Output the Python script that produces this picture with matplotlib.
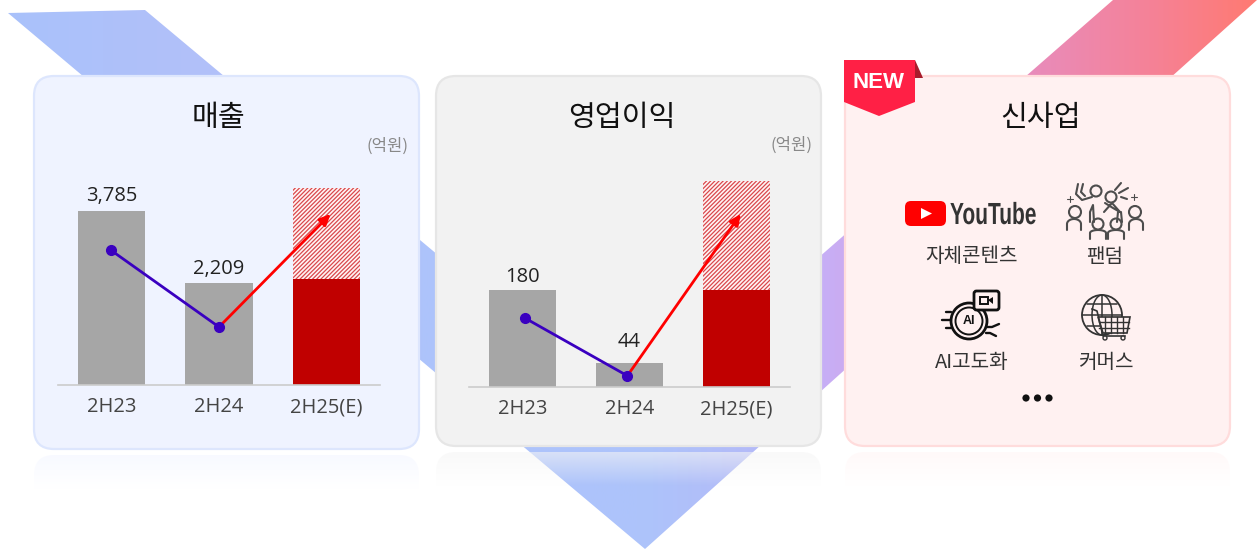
import numpy as np
import matplotlib
matplotlib.use('Agg')
import matplotlib.pyplot as plt
from matplotlib.patches import Polygon, FancyBboxPatch, Circle, Ellipse, Rectangle
from matplotlib.patheffects import AbstractPathEffect
from matplotlib.transforms import Affine2D
from matplotlib.colors import LinearSegmentedColormap, to_rgb

plt.rcParams['font.family'] = ['Noto Sans CJK KR', 'DejaVu Sans']
plt.rcParams['hatch.linewidth'] = 0.9

W, H = 1257, 549

categories = ['2H23', '2H24', '2H25(E)']

# 매출 (억원)
sales_actual = [3785, 2209, 2305]
sales_estimate_top = 4285
sales_labels = ['3,785', '2,209']
sales_line_x = [-0.01, 1.0]
sales_line_y = [2937, 1262]
sales_arrow_end = (2.04, 3720)

# 영업이익 (억원)
profit_actual = [180, 44, 180]
profit_estimate_top = 383
profit_labels = ['180', '44']
profit_line_x = [0.02, 0.98]
profit_line_y = [128, 20]
profit_arrow_end = (2.04, 322)

business_labels = ['자체콘텐츠', '팬덤', 'AI고도화', '커머스']

GREY = '#a6a6a6'
DARK_RED = '#c00000'
PURPLE = '#3a00c0'
PINK_BG = '#fff1f1'


class SqueezeX(AbstractPathEffect):
    # narrows drawn text, there is no condensed bold font installed
    def __init__(self, x_px, factor):
        super().__init__()
        self.x_px = x_px
        self.factor = factor

    def draw_path(self, renderer, gc, tpath, affine, rgbFace=None):
        squeeze = Affine2D().translate(-self.x_px, 0).scale(self.factor, 1).translate(self.x_px, 0)
        renderer.draw_path(gc, tpath, affine + squeeze, rgbFace)


def px_axes(x0, y0, x1, y1):
    return fig.add_axes([x0 / W, 1 - y1 / H, (x1 - x0) / W, (y1 - y0) / H])


def draw_chart(ax, actual, est_top, labels, label_gaps, line_x, line_y, arrow_end, ymax):
    x = np.arange(3)
    bar_colors = [GREY, GREY, DARK_RED]
    ax.bar(x, actual, width=0.63, color=bar_colors, zorder=2)
    ax.bar(2, est_top - actual[2], bottom=actual[2], width=0.63, facecolor='#fff4f4',
           edgecolor='#d9484c', hatch='////////', linewidth=0, zorder=2)
    for i in range(2):
        ax.annotate(labels[i], (x[i], actual[i]), xytext=(0, label_gaps[i]), textcoords='offset points',
                    ha='center', va='center', fontsize=14.5, color='#222222', family=['Open Sans'], zorder=5)
    ax.annotate('', xy=arrow_end, xytext=(line_x[1], line_y[1]), zorder=4,
                arrowprops=dict(arrowstyle='-|>,head_width=0.3,head_length=0.65', color='#ff0000',
                                lw=2.0, shrinkA=0, shrinkB=0))
    ax.plot(line_x, line_y, color=PURPLE, lw=2.0, marker='o', ms=7, zorder=5)
    ax.set_xlim(-0.5, 2.5)
    ax.set_ylim(0, ymax)
    ax.set_xticks(x)
    ax.set_xticklabels(categories, fontsize=14.5, color='#444444', family=['Open Sans'])
    ax.set_yticks([])
    ax.tick_params(axis='x', length=0, pad=9)
    ax.patch.set_alpha(0)
    for s in ['top', 'left', 'right']:
        ax.spines[s].set_visible(False)
    ax.spines['bottom'].set_color('#cccccc')
    ax.spines['bottom'].set_linewidth(1.2)


def draw_panel(x0, y0, x1, y1, fill, edge):
    p = FancyBboxPatch((x0, y0), x1 - x0, y1 - y0, boxstyle='round,pad=0,rounding_size=20',
                       facecolor=fill, edgecolor=edge, lw=1.6, zorder=3)
    bg.add_patch(p)
    # faded reflection under the card
    ry0 = y1 + 6
    ry1 = ry0 + 34
    img = np.zeros((60, 2, 4))
    img[:, :, :3] = 0.7 * np.array(to_rgb(fill)) + 0.3
    img[:, :, 3] = np.linspace(0.6, 0.0, 60).reshape(-1, 1)
    im = bg.imshow(img, extent=(x0, x1, ry1, ry0), aspect='auto', zorder=2)
    clip = FancyBboxPatch((x0, ry0), x1 - x0, 80, boxstyle='round,pad=0,rounding_size=20',
                          transform=bg.transData, facecolor='none', edgecolor='none')
    bg.add_patch(clip)
    im.set_clip_path(clip)


def line(xs, ys, color='#4d4d4d', lw=1.5):
    bg.plot(xs, ys, color=color, lw=lw, zorder=6, solid_capstyle='round')


def head(x, y, r, color='#4d4d4d', lw=1.5):
    bg.add_patch(Circle((x, y), r, facecolor='none', edgecolor=color, lw=lw, zorder=6))


def shoulders(x, y, w, h, color='#4d4d4d', lw=1.5):
    t = np.linspace(np.pi, 2 * np.pi, 30)
    xs = x + w * np.cos(t)
    ys = y + h + h * np.sin(t)
    line(np.r_[xs[0], xs, xs[-1]], np.r_[y + h + 6, ys, y + h + 6], color, lw)


fig = plt.figure(figsize=(W / 100, H / 100), dpi=100, facecolor='white')
bg = fig.add_axes([0, 0, 1, 1])
bg.axis('off')

# background V shaped band with left-right gradient
stops = [(0, '#a9c2fb'), (200 / W, '#b2c0f9'), (420 / W, '#adc3fb'), (640 / W, '#adc4fb'),
         (760 / W, '#b4baf8'), (830 / W, '#c8aef5'), (1030 / W, '#e88cbc'),
         (1150 / W, '#f58298'), (1, '#ff7a72')]
cmap = LinearSegmentedColormap.from_list('band', stops)
grad = bg.imshow(np.linspace(0, 1, 512).reshape(1, -1), extent=(0, W, H, 0), aspect='auto',
                 cmap=cmap, zorder=1)
band = Polygon([(8, 13), (145, 10), (634, 419), (1113, 0), (1257, 0), (645, 549)],
               closed=True, facecolor='none', edgecolor='none', transform=bg.transData)
bg.add_patch(band)
grad.set_clip_path(band)

draw_panel(34, 76, 419, 449, '#eff3ff', '#dde6fd')
draw_panel(436, 76, 821, 446, '#f2f2f2', '#e6e6e6')
draw_panel(845, 76, 1230, 446, PINK_BG, '#ffdcdc')

bg.set_xlim(0, W)
bg.set_ylim(H, 0)

# titles
bg.text(219, 118, '매출', ha='center', va='center', fontsize=21, fontweight='medium', color='#111111', zorder=6)
bg.text(622, 118, '영업이익', ha='center', va='center', fontsize=21, fontweight='medium', color='#111111', zorder=6)
bg.text(1041, 118, '신사업', ha='center', va='center', fontsize=21, fontweight='medium', color='#111111', zorder=6)
bg.text(408, 146, '(억원)', ha='right', va='center', fontsize=12, color='#888888', zorder=6)
bg.text(812, 145, '(억원)', ha='right', va='center', fontsize=12, color='#888888', zorder=6)

# NEW flag
bg.add_patch(Polygon([(915, 60), (923, 78), (915, 78)], facecolor='#a81c2c', zorder=6))
bg.add_patch(Polygon([(844, 60), (915, 60), (915, 102), (879, 116), (844, 102)],
                     facecolor='#ff2045', zorder=7))
bg.text(879, 82, 'NEW', ha='center', va='center', fontsize=16, fontweight='bold',
        color='white', family=['Liberation Sans'], zorder=8)

# youtube logo
bg.add_patch(FancyBboxPatch((905, 201), 41, 25, boxstyle='round,pad=0,rounding_size=6',
                            facecolor='#ff0000', edgecolor='none', zorder=6))
bg.add_patch(Polygon([(921, 208), (932, 213.5), (921, 219)], facecolor='white', zorder=7))
yt = bg.text(950, 216, 'YouTube', ha='left', va='center', fontsize=22, fontweight='bold', color='#333333',
             family=['Liberation Sans'], zorder=6)
yt.set_path_effects([SqueezeX(950, 0.685)])

# fandom icon
for hx, hy, r in [(1075, 212, 6), (1135, 212, 6), (1098, 224, 5.5), (1116, 224, 5.5), (1096, 191, 5.5), (1111, 197, 5.5)]:
    head(hx, hy, r)
shoulders(1074, 219, 7, 5)
shoulders(1136, 219, 7, 5)
shoulders(1098, 230, 8, 3)
shoulders(1116, 230, 8, 3)
line([1078, 1076, 1082, 1092], [184, 194, 200, 197])
line([1083, 1081, 1085], [184, 192, 196])
line([1104, 1112, 1120, 1113, 1105], [212, 203, 212, 208, 203])
line([1090, 1090, 1093, 1094], [222, 212, 205, 222])
line([1117, 1118, 1121, 1122], [222, 212, 212, 222])
line([1115, 1121], [190, 183])
line([1119, 1128], [193, 188])
line([1121, 1127], [197, 199])
for sx, sy in [(1070, 199), (1134, 197)]:
    line([sx - 3, sx + 3], [sy, sy], lw=0.8)
    line([sx, sx], [sy - 3, sy + 3], lw=0.8)

# AI chip icon
K = '#111111'
head(969, 321, 18, K, 2.0)
head(969, 321, 13.5, K, 1.4)
bg.text(969, 321, 'AI', ha='center', va='center', fontsize=9, fontweight='bold', color=K,
        family=['Liberation Sans'], zorder=7)
bg.add_patch(FancyBboxPatch((974, 291), 25, 19, boxstyle='round,pad=0,rounding_size=2.5',
                            facecolor=PINK_BG, edgecolor=K, lw=2.0, zorder=7))
bg.add_patch(Rectangle((980, 297), 8, 7, facecolor='none', edgecolor=K, lw=1.4, zorder=8))
bg.add_patch(Polygon([(988, 300), (993, 297), (993, 304)], facecolor=K, zorder=8))
for yy, x0 in [(312, 946), (320, 942), (328, 946)]:
    line([x0, 951], [yy, yy], K, 1.7)
line([986, 992, 999], [327, 327, 324], K, 1.7)
line([986, 990, 996], [333, 333, 336], K, 1.7)

# globe and cart icon
C = '#333333'
head(1102, 315, 20, C, 1.3)
bg.add_patch(Ellipse((1102, 315), 20, 40, facecolor='none', edgecolor=C, lw=1.1, zorder=6))
line([1102, 1102], [295, 335], C, 1.1)
line([1082, 1122], [315, 315], C, 1.1)
line([1087, 1117], [304, 304], C, 1.1)
line([1087, 1117], [326, 326], C, 1.1)
bg.add_patch(Polygon([(1098, 317), (1130, 317), (1127, 333), (1103, 333)], facecolor=PINK_BG,
                     edgecolor=C, lw=1.2, zorder=7))
for gx in [1105, 1111, 1117, 1123]:
    bg.plot([gx, gx], [317, 333], color=C, lw=1.0, zorder=8)
for gy in [322, 328]:
    bg.plot([1099, 1129], [gy, gy], color=C, lw=1.0, zorder=8)
bg.plot([1092, 1097, 1103, 1125], [309, 311, 336, 336], color=C, lw=1.2, zorder=8)
bg.add_patch(Circle((1105, 338), 2, facecolor=PINK_BG, edgecolor=C, lw=1, zorder=8))
bg.add_patch(Circle((1123, 338), 2, facecolor=PINK_BG, edgecolor=C, lw=1, zorder=8))

# business labels
label_xy = [(972, 257), (1105, 257), (972, 363), (1107, 363)]
for i in range(4):
    bg.text(label_xy[i][0], label_xy[i][1], business_labels[i], ha='center', va='center',
            fontsize=14.5, color='#333333', zorder=6)
for dot_x in [1026, 1037.5, 1049]:
    bg.add_patch(Circle((dot_x, 398), 3.6, facecolor='#111111', edgecolor='none', zorder=6))

ax1 = px_axes(58, 170, 380, 385)
draw_chart(ax1, sales_actual, sales_estimate_top, sales_labels, [10.5, 10.5], sales_line_x, sales_line_y,
           sales_arrow_end, 4677)
ax2 = px_axes(469, 170, 790, 386.5)
draw_chart(ax2, profit_actual, profit_estimate_top, profit_labels, [9.5, 15], profit_line_x, profit_line_y,
           profit_arrow_end, 404)

plt.savefig('out.png', dpi=100)
